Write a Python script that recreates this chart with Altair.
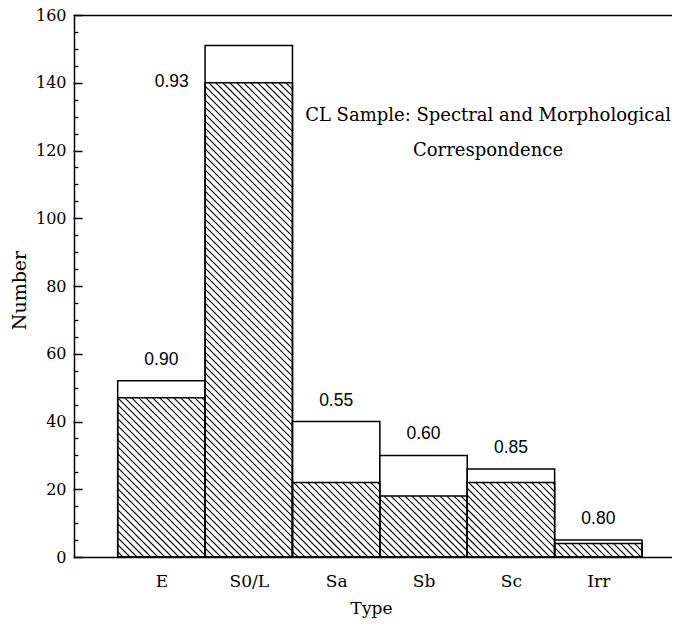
import json
import math
import altair as alt
import pandas as pd

# ---------------- data ----------------
types = ["E", "S0/L", "Sa", "Sb", "Sc", "Irr"]
totals = [52, 151, 40, 30, 26, 5]
matched = [47, 140, 22, 18, 22, 4]
ratios = ["0.90", "0.93", "0.55", "0.60", "0.85", "0.80"]
y_major = [0, 20, 40, 60, 80, 100, 120, 140, 160]
y_minor = [v for v in range(0, 161, 5) if v % 20 != 0]
title_lines = ["CL Sample: Spectral and Morphological", "Correspondence"]

# ---------------- layout ----------------
W, H = 598, 542
XMAX, YMAX = 6.843, 160
kx, ky = W / XMAX, H / YMAX
SPACING = 7.0
SERIF = "DejaVu Serif"
SANS = "Liberation Sans"

bars = pd.DataFrame({
    "type": types,
    "pos": [i + 1 for i in range(len(types))],
    "total": totals,
    "matched": matched,
    "ratio": ratios,
})
bars["x0"] = bars["pos"] - 0.5
bars["x1"] = bars["pos"] + 0.5
bars["zero"] = 0

# hatch segments ("\\" at 45 degrees in pixel space) clipped to each matched bar
rows = []
for p, m in zip(bars["pos"], matched):
    U0, U1, Hh = (p - 0.5) * kx, (p + 0.5) * kx, m * ky
    c = math.ceil(U0 / SPACING) * SPACING
    while c < U1 + Hh:
        ua, ub = max(U0, c - Hh), min(U1, c)
        if ub > ua:
            rows.append({"hx": ua / kx, "hy": (c - ua) / ky,
                         "hx2": ub / kx, "hy2": (c - ub) / ky})
        c += SPACING
hatch = pd.DataFrame(rows)

xs = alt.Scale(domain=[0, XMAX], nice=False, zero=False)
ys = alt.Scale(domain=[0, YMAX], nice=False, zero=False)

label_expr = json.dumps(types) + "[round(datum.value) - 1]"

outer = alt.Chart(bars).mark_rect(fill="white", stroke="black", strokeWidth=1.5).encode(
    x=alt.X("x0:Q", scale=xs, axis=alt.Axis(
        orient="bottom", values=[1, 2, 3, 4, 5, 6], labelExpr=label_expr,
        ticks=False, tickSize=0, domain=True, domainColor="black", domainWidth=1.5,
        grid=False, labelFlush=False, labelOverlap=False,
        labelFont=SERIF, labelFontSize=17, labelColor="black",
        labelBaseline="middle", labelPadding=24,
        title="Type", titleFont=SERIF, titleFontSize=17, titleFontWeight="normal",
        titleColor="black", titleX=297, titleY=51, titleAlign="center",
        titleBaseline="middle")),
    x2="x1:Q",
    y=alt.Y("total:Q", scale=ys, axis=alt.Axis(
        orient="left", values=y_major, ticks=False, tickSize=0, domain=True,
        domainColor="black", domainWidth=1.5, grid=False,
        labelFont=SERIF, labelFontSize=16, labelColor="black", labelPadding=8,
        title="Number", titleFont=SERIF, titleFontSize=19, titleFontWeight="normal",
        titleColor="black", titleX=-55, titleY=275, titleAngle=270,
        titleAlign="center", titleBaseline="middle")),
    y2="zero:Q",
)

hatch_layer = alt.Chart(hatch).mark_rule(color="black", strokeWidth=1.1).encode(
    x=alt.X("hx:Q", scale=xs, axis=None),
    x2="hx2:Q",
    y=alt.Y("hy:Q", scale=ys, axis=alt.Axis(
        orient="left", values=y_minor, labels=False, domain=False, ticks=True,
        tickSize=4, tickWidth=1.3, tickColor="black", offset=-4, grid=False,
        title=None)),
    y2="hy2:Q",
)

inner = alt.Chart(bars).mark_rect(fill="white", fillOpacity=0, stroke="black",
                                  strokeWidth=1.5).encode(
    x=alt.X("x0:Q", scale=xs, axis=alt.Axis(
        orient="top", labels=False, ticks=False, tickSize=0, domain=True,
        domainColor="black", domainWidth=1.5, grid=False, title=None)),
    x2="x1:Q",
    y=alt.Y("matched:Q", scale=ys, axis=alt.Axis(
        orient="left", values=y_major, labels=False, domain=False, ticks=True,
        tickSize=9, tickWidth=1.5, tickColor="black", offset=-8, grid=False,
        title=None)),
    y2="zero:Q",
)

labels_top = alt.Chart(bars).transform_filter("datum.type != 'S0/L'").mark_text(
    font=SANS, fontSize=17.5, color="black", baseline="middle", align="center", dy=-21
).encode(
    x=alt.X("pos:Q", scale=xs, axis=None),
    y=alt.Y("total:Q", scale=ys, axis=None),
    text="ratio:N",
)

label_s0 = alt.Chart(bars).transform_filter("datum.type == 'S0/L'").mark_text(
    font=SANS, fontSize=17.5, color="black", baseline="middle", align="center",
    dx=-77, dy=-1
).encode(
    x=alt.X("pos:Q", scale=xs, axis=None),
    y=alt.Y("matched:Q", scale=ys, axis=None),
    text="ratio:N",
)

title_text = alt.Chart(pd.DataFrame({"k": [0]})).mark_text(
    text=title_lines, font=SERIF, fontSize=18, color="black", align="center",
    baseline="alphabetic", lineHeight=35
).encode(x=alt.value(414), y=alt.value(106))

chart = alt.layer(
    outer, hatch_layer, inner, labels_top, label_s0, title_text
).resolve_axis(x="independent", y="independent").properties(
    width=W, height=H,
    autosize=alt.AutoSizeParams(type="none"),
    padding={"left": 66, "top": 7, "right": 0, "bottom": 62},
).configure_view(stroke="transparent")

chart.save("out.html", embed_options={"renderer": "svg", "actions": False})
